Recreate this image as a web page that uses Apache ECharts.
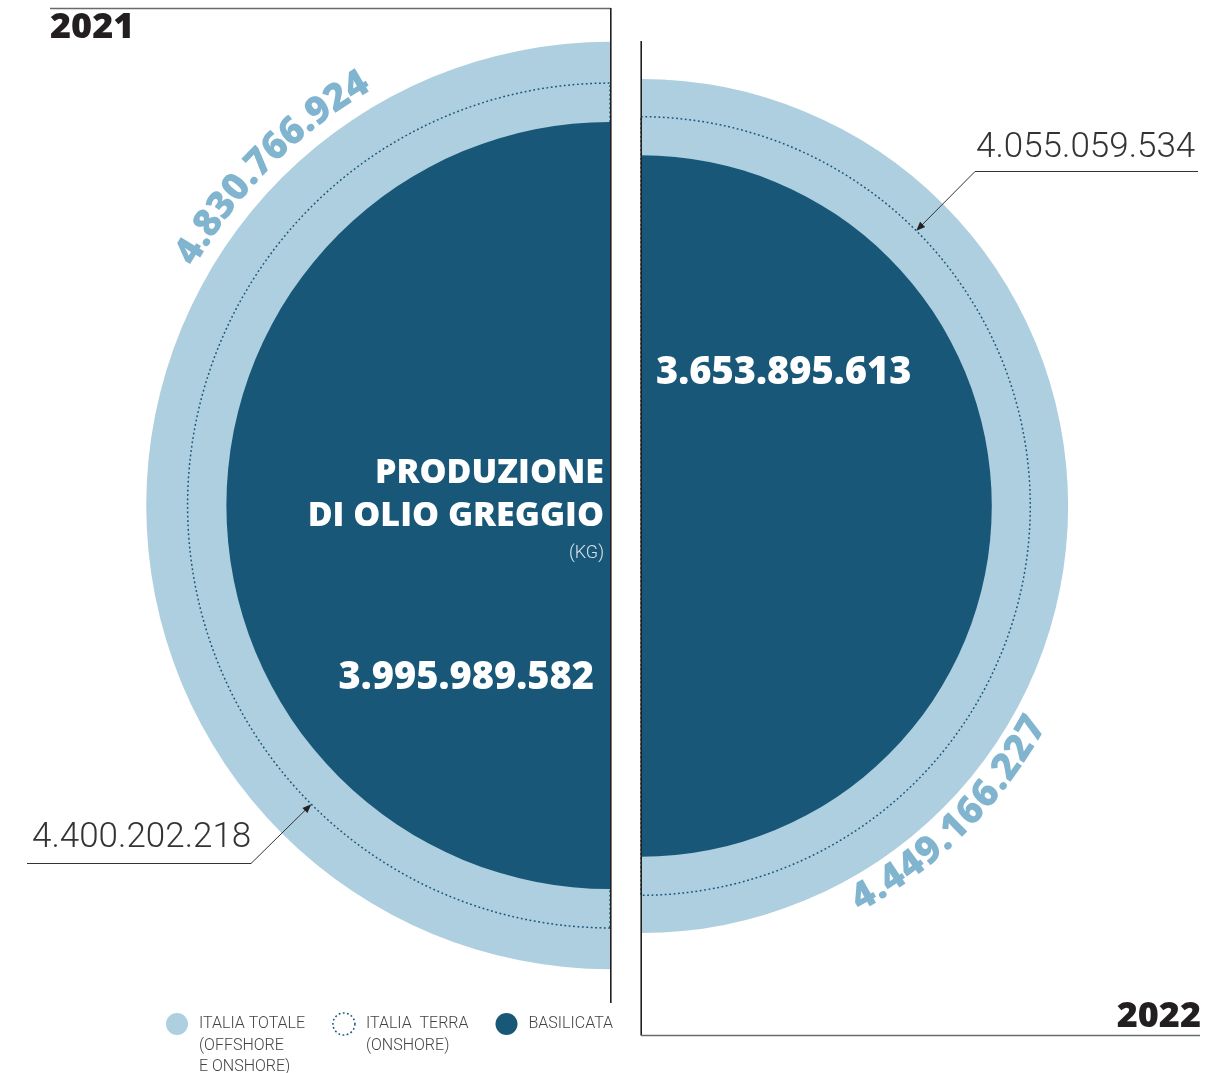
<!DOCTYPE html>
<html>
<head>
<meta charset="utf-8">
<script src="https://cdn.jsdelivr.net/npm/echarts@6/dist/echarts.min.js"></script>
<style>
  html, body { margin: 0; padding: 0; background: #ffffff; }
  #chart { width: 1225px; height: 1073px; }
</style>
</head>
<body>
<div id="chart"></div>
<script>
// Crude oil production (kg): Italy total, Italy onshore, Basilicata
const years = ['2021', '2022'];
const italiaTotale = [4830766924, 4449166227];
const italiaTerra = [4400202218, 4055059534];
const basilicata = [3995989582, 3653895613];
const legendNames = ['ITALIA TOTALE\n(OFFSHORE\nE ONSHORE)', 'ITALIA  TERRA\n(ONSHORE)', 'BASILICATA'];
const titleLines = ['PRODUZIONE', 'DI OLIO GREGGIO'];
const unitLabel = '(KG)';
const radiusMax = 5e9;

const LIGHT = '#AECFE0';
const DARK = '#195778';
const ARC_TEXT = '#80B4CF';
const INK = '#231F20';
const RULE = '#6A6A6A';
const BOLD_FAMILY = '"Open Sans", "Noto Sans", sans-serif';
const LIGHT_FAMILY = 'Roboto, "Noto Sans", sans-serif';

const centers = [[610, 505.5], [641, 506]];
const startAngles = [270, 90];   // 2021 fills the left half, 2022 the right half

// Italian thousands separator
function fmt(v) {
  return String(v).replace(/\B(?=(\d{3})+(?!\d))/g, '.');
}

const chart = echarts.init(document.getElementById('chart'), null, { renderer: 'canvas' });

const series = [];
years.forEach((y, i) => {
  const common = {
    type: 'bar',
    coordinateSystem: 'polar',
    polarIndex: i,
    barCategoryGap: '0%',
    barGap: '-100%',
    silent: true,
    animation: false
  };
  series.push(Object.assign({}, common, {
    name: legendNames[0],
    data: [italiaTotale[i]],
    itemStyle: { color: LIGHT }
  }));
  series.push(Object.assign({}, common, {
    name: legendNames[1],
    data: [italiaTerra[i]],
    itemStyle: { color: 'rgba(0,0,0,0)', borderColor: DARK, borderWidth: 1.5, borderType: [1.8, 2.6] }
  }));
  series.push(Object.assign({}, common, {
    name: legendNames[2],
    data: [basilicata[i]],
    itemStyle: { color: DARK }
  }));
});

// legend labels: leading blank lines keep the first text line level with the icon
const LH = 21.5;
const maxLines = Math.max.apply(null, legendNames.map(n => n.split('\n').length));
function legendLabel(name) {
  const n = name.split('\n').length;
  return '\n'.repeat(n - 1) + name;
}

chart.setOption({
  backgroundColor: '#ffffff',
  animation: false,
  polar: centers.map(c => ({ center: c, radius: 480 })),
  radiusAxis: years.map((y, i) => ({
    polarIndex: i, type: 'value', min: 0, max: radiusMax, show: false
  })),
  angleAxis: years.map((y, i) => ({
    polarIndex: i, type: 'category', data: [y, ''], startAngle: startAngles[i],
    clockwise: true, show: false
  })),
  legend: {
    left: 166,
    top: 1024 - (2 * maxLines - 1) * LH / 2,
    padding: 0,
    orient: 'horizontal',
    icon: 'circle',
    itemWidth: 22,
    itemHeight: 22,
    itemGap: 27,
    selectedMode: false,
    formatter: legendLabel,
    textStyle: { fontFamily: LIGHT_FAMILY, fontWeight: 300, fontSize: 16, color: '#444444', lineHeight: LH, padding: [0, 0, 0, 6] },
    data: [
      { name: legendNames[0], itemStyle: { color: LIGHT } },
      { name: legendNames[1], itemStyle: { color: 'rgba(0,0,0,0)', borderColor: DARK, borderWidth: 1.5, borderType: [1.8, 2.4] } },
      { name: legendNames[2], itemStyle: { color: DARK } }
    ]
  },
  series: series
});

// pixel radius of a value on a half-disc's radius axis
function ringRadius(i, v) {
  let p = null;
  try { p = chart.convertToPixel({ polarIndex: i }, [v, 0]); } catch (e) { p = null; }
  if (!p || isNaN(p[0])) return v / radiusMax * 480;
  return Math.hypot(p[0] - centers[i][0], p[1] - centers[i][1]);
}

function pointAt(i, r, deg) {
  const a = deg * Math.PI / 180;
  return [centers[i][0] + r * Math.cos(a), centers[i][1] - r * Math.sin(a)];
}

const measureCtx = document.createElement('canvas').getContext('2d');

// characters laid along a circular arc; outward = letter tops facing away from the centre
function arcText(i, text, r, midDeg, outward, font, fill, spacing) {
  measureCtx.font = font;
  const chars = Array.from(text);
  const widths = chars.map(ch => measureCtx.measureText(ch).width);
  const total = widths.reduce((a, b) => a + b, 0) + spacing * (chars.length - 1);
  let s = -total / 2;
  const els = [];
  chars.forEach((ch, k) => {
    const c = s + widths[k] / 2;
    s += widths[k] + spacing;
    const d = c / r;
    const mid = midDeg * Math.PI / 180;
    const th = outward ? mid - d : mid + d;
    const rot = outward ? th - Math.PI / 2 : th + Math.PI / 2;
    els.push({
      type: 'text',
      x: centers[i][0] + r * Math.cos(th),
      y: centers[i][1] - r * Math.sin(th),
      rotation: rot,
      z: 20,
      silent: true,
      style: { text: ch, font: font, fill: fill, align: 'center', verticalAlign: 'middle', textAlign: 'center', textVerticalAlign: 'middle' }
    });
  });
  return els;
}

function txt(x, y, text, font, fill, align) {
  return {
    type: 'text', x: x, y: y, z: 20, silent: true,
    style: { text: text, font: font, fill: fill, align: align, verticalAlign: 'middle', textAlign: align, textVerticalAlign: 'middle' }
  };
}

function line(x1, y1, x2, y2, stroke, w) {
  return { type: 'line', z: 15, silent: true, shape: { x1: x1, y1: y1, x2: x2, y2: y2 }, style: { stroke: stroke, lineWidth: w } };
}

// leader line with an arrow head ending on the onshore circle
function leader(points, tip) {
  const prev = points[points.length - 1];
  const dx = tip[0] - prev[0], dy = tip[1] - prev[1];
  const len = Math.hypot(dx, dy);
  const ux = dx / len, uy = dy / len;
  const L = 9, W = 3.6;
  const bx = tip[0] - ux * L, by = tip[1] - uy * L;
  return [
    { type: 'polyline', z: 15, silent: true, shape: { points: points.concat([[bx + ux * 2, by + uy * 2]]) }, style: { stroke: '#333333', lineWidth: 1, fill: null } },
    { type: 'polygon', z: 15, silent: true, shape: { points: [tip, [bx - uy * W, by + ux * W], [bx + uy * W, by - ux * W]] }, style: { fill: '#222222' } }
  ];
}

const graphics = [];

// frame rules
graphics.push(line(50, 8.5, 610.8, 8.5, RULE, 1.5));
graphics.push(line(610.8, 8, 610.8, 1003, INK, 1.6));
graphics.push(line(641.2, 41, 641.2, 1035.5, INK, 1.6));
graphics.push(line(641, 1035.5, 1200, 1035.5, RULE, 1.5));

// years
graphics.push(txt(50, 28, years[0], '800 36px ' + BOLD_FAMILY, INK, 'left'));
graphics.push(txt(1201, 1017, years[1], '800 36px ' + BOLD_FAMILY, INK, 'right'));

// title in the centre
graphics.push(txt(604, 473, titleLines[0], '800 34px ' + BOLD_FAMILY, '#ffffff', 'right'));
graphics.push(txt(604, 516, titleLines[1], '800 34px ' + BOLD_FAMILY, '#ffffff', 'right'));
graphics.push(txt(604, 553, unitLabel, '300 18px ' + LIGHT_FAMILY, '#D6E3EC', 'right'));

// Basilicata values
graphics.push(txt(594, 678, fmt(basilicata[0]), '800 38px ' + BOLD_FAMILY, '#ffffff', 'right'));
graphics.push(txt(656, 373, fmt(basilicata[1]), '800 38px ' + BOLD_FAMILY, '#ffffff', 'left'));

// onshore annotations
const tipL = pointAt(0, ringRadius(0, italiaTerra[0]), 225);
graphics.push(txt(32, 838, fmt(italiaTerra[0]), '300 35px ' + LIGHT_FAMILY, '#333333', 'left'));
graphics.push.apply(graphics, leader([[27, 863.5], [251, 863.5]], tipL));
const tipR = pointAt(1, ringRadius(1, italiaTerra[1]), 45);
graphics.push(txt(976, 148, fmt(italiaTerra[1]), '300 35px ' + LIGHT_FAMILY, '#333333', 'left'));
graphics.push.apply(graphics, leader([[1198, 171.5], [975, 171.5]], tipR));

// totals written along the outer rings
const arcFont = '800 38px ' + BOLD_FAMILY;
graphics.push.apply(graphics, arcText(0, fmt(italiaTotale[0]), ringRadius(0, italiaTotale[0]) + 26, 135, true, arcFont, ARC_TEXT, 0.3));
graphics.push.apply(graphics, arcText(1, fmt(italiaTotale[1]), ringRadius(1, italiaTotale[1]) + 23, -45, false, arcFont, ARC_TEXT, 0.6));

chart.setOption({ graphic: { elements: graphics } });
</script>
</body>
</html>
